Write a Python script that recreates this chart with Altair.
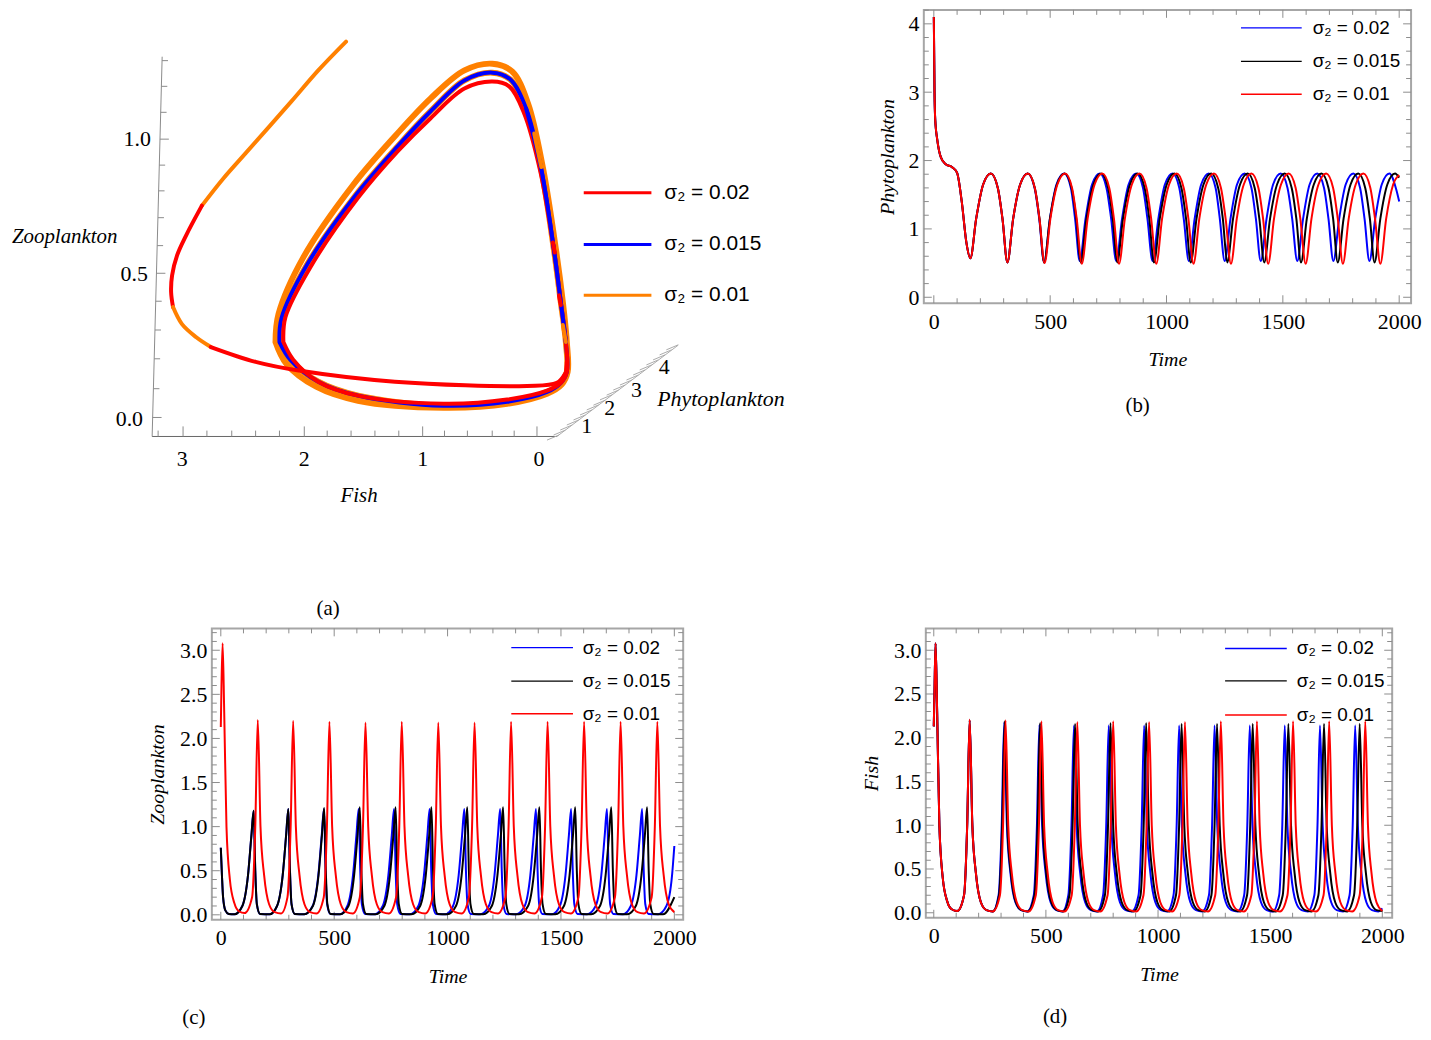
import altair as alt
import pandas as pd

BLUE, BLACK, RED, ORANGE = "#0000ff", "#000000", "#ff0000", "#ff8000"
LEGEND_TEXT = ["σ₂ = 0.02", "σ₂ = 0.015", "σ₂ = 0.01"]

# ---------- panel (b) Phytoplankton ----------
b_blue_t = [0,3,6,15,30,50,80,100,120,140,157,182,212,245,275,295,316,341,371,403,433,453,474,499,527,560,589,607,627,652,680,713,742,762,784,809,837,870,899,918,940,965,993,1026,1055,1074,1096,1121,1149,1182,1211,1229,1250,1275,1303,1336,1365,1384,1405,1430,1458,1491,1520,1540,1562,1587,1615,1648,1677,1696,1717,1742,1770,1803,1832,1851,1872,1897,1925,1958,1987,2000]
b_blue_y = [4.1,3.0,2.6,2.3,2.05,1.95,1.9,1.82,1.4,.8,.57,1.15,1.65,1.81,1.6,1.15,.51,1.15,1.65,1.81,1.6,1.15,.51,1.15,1.65,1.81,1.6,1.15,.53,1.15,1.65,1.81,1.6,1.15,.53,1.15,1.65,1.81,1.6,1.15,.53,1.15,1.65,1.81,1.6,1.15,.53,1.15,1.65,1.81,1.6,1.15,.53,1.15,1.65,1.81,1.6,1.15,.53,1.15,1.65,1.81,1.6,1.15,.53,1.15,1.65,1.81,1.6,1.15,.53,1.15,1.65,1.81,1.6,1.15,.53,1.15,1.65,1.81,1.58,1.40]
b_black_t = [0,3,6,15,30,50,80,100,120,140,157,182,212,245,275,295,316,341,371,404,434,454,474,499,529,562,592,612,631,656,686,719,749,769,788,813,843,876,906,926,946,971,1001,1034,1064,1084,1104,1129,1159,1192,1222,1242,1261,1286,1316,1349,1379,1399,1420,1445,1475,1508,1538,1558,1578,1603,1633,1666,1696,1716,1736,1761,1791,1824,1854,1874,1894,1919,1949,1982,2000]
b_black_y = [4.1,3.0,2.6,2.3,2.05,1.95,1.9,1.82,1.4,.8,.57,1.15,1.65,1.81,1.6,1.15,.51,1.15,1.65,1.81,1.6,1.15,.51,1.15,1.65,1.81,1.6,1.15,.51,1.15,1.65,1.81,1.6,1.15,.51,1.15,1.65,1.81,1.6,1.15,.51,1.15,1.65,1.81,1.6,1.15,.51,1.15,1.65,1.81,1.6,1.15,.51,1.15,1.65,1.81,1.6,1.15,.51,1.15,1.65,1.81,1.6,1.15,.51,1.15,1.65,1.81,1.6,1.15,.51,1.15,1.65,1.81,1.6,1.15,.51,1.15,1.65,1.81,1.75]
b_red_t = [0,3,6,15,30,50,80,100,120,140,157,182,212,245,275,295,316,341,371,404,434,454,476,501,531,564,594,614,636,661,691,724,754,774,796,821,851,884,914,934,956,981,1011,1044,1074,1094,1116,1141,1171,1204,1234,1254,1277,1302,1332,1365,1395,1415,1437,1462,1492,1525,1555,1575,1598,1623,1653,1686,1716,1736,1758,1783,1813,1846,1876,1896,1919,1944,1974,2000]
b_red_y = [4.1,3.0,2.6,2.3,2.05,1.95,1.9,1.82,1.4,.8,.57,1.15,1.65,1.81,1.6,1.15,.51,1.15,1.65,1.81,1.6,1.15,.5,1.15,1.65,1.81,1.6,1.15,.49,1.15,1.65,1.81,1.6,1.15,.49,1.15,1.65,1.81,1.6,1.15,.49,1.15,1.65,1.81,1.6,1.15,.49,1.15,1.65,1.81,1.6,1.15,.49,1.15,1.65,1.81,1.6,1.15,.49,1.15,1.65,1.81,1.6,1.15,.49,1.15,1.65,1.81,1.6,1.15,.49,1.15,1.65,1.81,1.6,1.15,.49,1.15,1.65,1.79]

# ---------- panel (c) Zooplankton ----------
c_blue_t = [0,5,10,20,35,60,95,120,135,145,152,159,173,215,248,273,288,298,305,312,326,368,405,430,445,455,462,469,483,525,558,583,598,608,615,622,636,678,714,739,754,764,771,778,792,834,871,896,911,921,928,935,949,991,1024,1049,1064,1074,1081,1088,1102,1144,1182,1207,1222,1232,1239,1246,1260,1302,1340,1365,1380,1390,1397,1404,1418,1460,1495,1520,1535,1545,1552,1559,1573,1615,1653,1678,1693,1703,1710,1717,1731,1773,1808,1833,1848,1858,1865,1872,1886,1928,1965,1990,2000]
c_blue_y = [.76,.45,.2,.05,.01,.005,.1,.45,.9,1.18,.5,.12,.01,.005,.1,.45,.9,1.2,.5,.12,.01,.005,.1,.45,.9,1.2,.5,.12,.01,.005,.1,.45,.9,1.2,.5,.12,.01,.005,.1,.45,.9,1.2,.5,.12,.01,.005,.1,.45,.9,1.2,.5,.12,.01,.005,.1,.45,.9,1.2,.5,.12,.01,.005,.1,.45,.9,1.2,.5,.12,.01,.005,.1,.45,.9,1.2,.5,.12,.01,.005,.1,.45,.9,1.2,.5,.12,.01,.005,.1,.45,.9,1.2,.5,.12,.01,.005,.1,.45,.9,1.2,.5,.12,.01,.005,.1,.45,.78]
c_black_t = [0,5,10,20,35,60,95,120,135,145,152,159,173,215,248,273,288,298,305,312,326,368,406,431,446,456,463,470,484,526,563,588,603,613,620,627,641,683,721,746,761,771,778,785,799,841,879,904,919,929,936,943,957,999,1037,1062,1077,1087,1094,1101,1115,1157,1195,1220,1235,1245,1252,1259,1273,1315,1355,1380,1395,1405,1412,1419,1433,1475,1513,1538,1553,1563,1570,1577,1591,1633,1672,1697,1712,1722,1729,1736,1750,1792,1830,1855,1870,1880,1887,1894,1908,1950,2000]
c_black_y = [.76,.45,.2,.05,.01,.005,.1,.45,.9,1.18,.5,.12,.01,.005,.1,.45,.9,1.2,.5,.12,.01,.005,.1,.45,.9,1.21,.5,.12,.01,.005,.1,.45,.9,1.22,.5,.12,.01,.005,.1,.45,.9,1.22,.5,.12,.01,.005,.1,.45,.9,1.22,.5,.12,.01,.005,.1,.45,.9,1.22,.5,.12,.01,.005,.1,.45,.9,1.22,.5,.12,.01,.005,.1,.45,.9,1.22,.5,.12,.01,.005,.1,.45,.9,1.22,.5,.12,.01,.005,.1,.45,.9,1.22,.5,.12,.01,.005,.1,.45,.9,1.22,.5,.12,.01,.005,.2]
c_red_t = [0,3,8,15,25,40,60,80,105,138,152,163,175,191,213,238,266,294,308,319,331,347,369,394,422,454,468,479,491,507,529,554,582,613,627,638,650,666,688,713,741,773,787,798,810,826,848,873,901,934,948,959,971,987,1009,1034,1062,1094,1108,1119,1131,1147,1169,1194,1222,1255,1269,1280,1292,1308,1330,1355,1383,1416,1430,1441,1453,1469,1491,1516,1544,1577,1591,1602,1614,1630,1652,1677,1705,1738,1752,1763,1775,1791,1813,1838,1866,1900,1914,1925,1937,1953,1975,2000]
c_red_y = [2.13,2.6,3.08,2.3,1.0,.4,.13,.04,.02,.2,1,2.21,1,.45,.12,.03,.015,.2,1,2.2,1,.45,.12,.03,.015,.2,1,2.19,1,.45,.12,.03,.015,.2,1,2.18,1,.45,.12,.03,.015,.2,1,2.19,1,.45,.12,.03,.015,.2,1,2.18,1,.45,.12,.03,.015,.2,1,2.18,1,.45,.12,.03,.015,.2,1,2.19,1,.45,.12,.03,.015,.2,1,2.19,1,.45,.12,.03,.015,.2,1,2.19,1,.45,.12,.03,.015,.2,1,2.19,1,.45,.12,.03,.015,.2,1,2.19,1,.45,.12,.03]

# ---------- panel (d) Fish ----------
d_blue_t = [0,3,8,15,25,40,60,80,105,135,149,160,172,188,210,235,263,289,303,314,326,342,364,389,417,446,460,471,483,499,521,546,574,600,614,625,637,653,675,700,728,755,769,780,792,808,830,855,883,913,927,938,950,966,988,1013,1041,1069,1083,1094,1106,1122,1144,1169,1197,1227,1241,1252,1264,1280,1302,1327,1355,1384,1398,1409,1421,1437,1459,1484,1512,1540,1554,1565,1577,1593,1615,1640,1668,1697,1711,1722,1734,1750,1772,1797,1825,1854,1868,1879,1891,1907,1929,1954,1982,2000]
d_blue_y = [2.13,2.5,3.08,2.3,1.0,.4,.13,.04,.02,.2,1,2.2,1,.45,.12,.03,.015,.2,1,2.18,1,.45,.12,.03,.015,.2,1,2.15,1,.45,.12,.03,.015,.2,1,2.14,1,.45,.12,.03,.015,.2,1,2.14,1,.45,.12,.03,.015,.2,1,2.14,1,.45,.12,.03,.015,.2,1,2.14,1,.45,.12,.03,.015,.2,1,2.14,1,.45,.12,.03,.015,.2,1,2.14,1,.45,.12,.03,.015,.2,1,2.14,1,.45,.12,.03,.015,.2,1,2.14,1,.45,.12,.03,.015,.2,1,2.14,1,.45,.12,.03,.015,.05]
d_black_t = [0,3,8,15,25,40,60,80,105,135,149,160,172,188,210,235,263,291,305,316,328,344,366,391,419,449,463,474,486,502,524,549,577,605,619,630,642,658,680,705,733,763,777,788,800,816,838,863,891,922,936,947,959,975,997,1022,1050,1080,1094,1105,1117,1133,1155,1180,1208,1238,1252,1263,1275,1291,1313,1338,1366,1397,1411,1422,1434,1450,1472,1497,1525,1556,1570,1581,1593,1609,1631,1656,1684,1715,1729,1740,1752,1768,1790,1815,1843,1874,1888,1899,1911,1927,1949,1974,2000]
d_black_y = [2.13,2.5,3.08,2.3,1.0,.4,.13,.04,.02,.2,1,2.2,1,.45,.12,.03,.015,.2,1,2.19,1,.45,.12,.03,.015,.2,1,2.17,1,.45,.12,.03,.015,.2,1,2.16,1,.45,.12,.03,.015,.2,1,2.17,1,.45,.12,.03,.015,.2,1,2.17,1,.45,.12,.03,.015,.2,1,2.16,1,.45,.12,.03,.015,.2,1,2.16,1,.45,.12,.03,.015,.2,1,2.16,1,.45,.12,.03,.015,.2,1,2.16,1,.45,.12,.03,.015,.2,1,2.16,1,.45,.12,.03,.015,.2,1,2.16,1,.45,.12,.03,.02]
d_red_t = [0,3,8,15,25,40,60,80,105,135,149,160,172,188,210,235,263,295,309,320,332,348,370,395,423,455,469,480,492,508,530,555,583,615,629,640,652,668,690,715,743,775,789,800,812,828,850,875,903,935,949,960,972,988,1010,1035,1063,1095,1109,1120,1132,1148,1170,1195,1223,1255,1269,1280,1292,1308,1330,1355,1383,1416,1430,1441,1453,1469,1491,1516,1544,1577,1591,1602,1614,1630,1652,1677,1705,1738,1752,1763,1775,1791,1813,1838,1866,1899,1913,1924,1936,1952,1974,2000]
d_red_y = [2.13,2.5,3.08,2.3,1.0,.4,.13,.04,.02,.2,1,2.21,1,.45,.12,.03,.015,.2,1,2.2,1,.45,.12,.03,.015,.2,1,2.19,1,.45,.12,.03,.015,.2,1,2.18,1,.45,.12,.03,.015,.2,1,2.19,1,.45,.12,.03,.015,.2,1,2.18,1,.45,.12,.03,.015,.2,1,2.18,1,.45,.12,.03,.015,.2,1,2.19,1,.45,.12,.03,.015,.2,1,2.19,1,.45,.12,.03,.015,.2,1,2.19,1,.45,.12,.03,.015,.2,1,2.19,1,.45,.12,.03,.015,.2,1,2.19,1,.45,.12,.02]

# ---------- panel (a): projected Fish / Zooplankton coordinates ----------
tr_orange_f = [1.617,1.85,2.075,2.458,2.642,2.825]
tr_orange_z = [1.349,1.246,1.135,.95,.861,.762]
tr_red1_f = [2.825,2.958,3.033,3.075,3.083,3.067]
tr_red1_z = [.762,.655,.584,.512,.452,.399]
tr_mix_f = [3.067,2.992,2.875,2.75]
tr_mix_z = [.399,.338,.292,.256]
tr_red2_f = [2.75,2.375,2.0,1.208,.1,-.15,-.217]
tr_red2_z = [.256,.203,.171,.132,.117,.128,.16]
loop_red_f = [2.142,2.058,1.85,1.517,.8,.267,-.067,-.183,-.233,-.225,-.183,-.125,-.008,.125,.25,.392,.625,.908,1.183,1.517,1.917,2.125,2.142]
loop_red_z = [.274,.21,.132,.082,.053,.068,.1,.128,.167,.274,.416,.605,.89,1.093,1.189,1.206,1.181,1.075,.957,.79,.541,.363,.274]
loop_blue_f = [2.175,2.083,1.85,1.517,.8,.267,-.067,-.183,-.233,-.225,-.183,-.125,-.017,.108,.242,.392,.625,.908,1.183,1.533,1.942,2.158,2.175]
loop_blue_z = [.274,.21,.132,.082,.046,.06,.095,.128,.167,.274,.416,.605,.897,1.11,1.214,1.238,1.21,1.1,.975,.801,.552,.359,.274]
loop_orange_f = [2.208,2.117,1.867,1.517,.8,.267,-.067,-.19,-.24,-.233,-.2,-.142,-.033,.092,.225,.392,.625,.908,1.2,1.558,1.975,2.183,2.208]
loop_orange_z = [.274,.196,.114,.064,.039,.053,.089,.122,.167,.274,.416,.605,.897,1.128,1.242,1.27,1.246,1.146,1.014,.836,.577,.374,.274]
right_blue_f = [.108,-.017,-.125,-.183,-.225]
right_blue_z = [1.11,.897,.605,.416,.274]
bits_red = [([-.117,-.133],[.63,.594]),([-.167,-.183],[.441,.406]),([-.233,-.225],[.203,.16])]
bits_orange = [([-.2,-.225],[.335,.274]),([.04,-.02],[1.02,.9])]

axis_y_f = [3.242,3.158]
axis_y_z = [-.064,1.295]
axis_x_f = [3.242,-.15]
axis_x_z = [-.064,-.064]
axis_p_f = [-.15,-1.167]
axis_p_z = [-.064,.263]
ytick_z = [1.281,1.189,1.096,1.0,.907,.815,.719,.619,.52,.42,.317,.214,.107,.004]
ytick_f = [3.159,3.165,3.171,3.177,3.183,3.188,3.193,3.2,3.206,3.212,3.218,3.225,3.231,3.238]
ytick_f2 = [3.109,3.115,3.121,3.102,3.133,3.138,3.143,3.15,3.131,3.162,3.168,3.175,3.181,3.163]
xtick_f = [3.192,2.983,2.783,2.575,2.375,2.175,1.967,1.775,1.575,1.375,1.175,.975,.792,.6,.392,.208,.017]
xtick_z2 = [-.043,-.028,-.043,-.043,-.043,-.043,-.028,-.043,-.043,-.043,-.043,-.028,-.043,-.043,-.043,-.043,-.028]
ptick_f = [-.167,-.222,-.278,-.333,-.389,-.444,-.5,-.556,-.611,-.667,-.722,-.778,-.833,-.889,-.944,-1.0,-1.056,-1.111,-1.167]
ptick_z = [-.059,-.041,-.023,-.005,.013,.031,.049,.066,.085,.102,.12,.138,.156,.174,.192,.21,.228,.246,.264]
ptick_f2 = [-.067,-.122,-.178,-.233,-.289,-.344,-.4,-.456,-.511,-.567,-.622,-.678,-.733,-.789,-.844,-.9,-.956,-1.011,-1.067]
ptick_z2 = [-.077,-.059,-.041,-.023,-.005,.013,.031,.048,.067,.084,.102,.12,.138,.156,.174,.192,.21,.228,.246]

a_num_text = ["1.0","0.5","0.0","3","2","1","0","1","2","3","4"]
a_num_f = [3.367,3.392,3.433,2.99,1.967,.975,0,-.4,-.592,-.817,-1.05]
a_num_z = [1.0,.516,0,-.146,-.146,-.146,-.146,-.028,.036,.103,.185]
a_title_text = ["Fish","Zooplankton"]
a_title_f = [1.508,3.975]
a_title_z = [-.278,.648]
a_leg_z = [.808,.623,.441]
a_leg_color = [RED,BLUE,ORANGE]

SERIF = "Liberation Serif"
SANS = "Liberation Sans"
XA = alt.Scale(domain=[4.45,-2.15], nice=False, zero=False)
YA = alt.Scale(domain=[-.733,1.4626], nice=False, zero=False)

def a_line(f, z, color, width, dash=None):
    df = pd.DataFrame({"f":f,"z":z,"i":range(len(f))})
    kw = dict(color=color, strokeWidth=width, interpolate="catmull-rom", strokeCap="round", clip=False)
    if dash: kw["strokeDash"] = dash
    return alt.Chart(df).mark_line(**kw).encode(
        x=alt.X("f:Q", scale=XA, axis=None), y=alt.Y("z:Q", scale=YA, axis=None), order="i:Q")

def a_rules(f, z, f2, z2, color="#8a8a8a", width=1):
    df = pd.DataFrame({"f":f,"z":z,"f2":f2,"z2":z2})
    return alt.Chart(df).mark_rule(color=color, strokeWidth=width).encode(
        x=alt.X("f:Q", scale=XA, axis=None), y=alt.Y("z:Q", scale=YA, axis=None), x2="f2:Q", y2="z2:Q")

def a_text(text, f, z, font, size, italic=False, align="center"):
    df = pd.DataFrame({"t":text,"f":f,"z":z})
    return alt.Chart(df).mark_text(font=font, fontSize=size, fontStyle="italic" if italic else "normal",
                                   align=align, baseline="middle", color="black").encode(
        x=alt.X("f:Q", scale=XA, axis=None), y=alt.Y("z:Q", scale=YA, axis=None), text="t:N")

a_layers = [
    a_rules([axis_y_f[0]],[axis_y_z[0]],[axis_y_f[1]],[axis_y_z[1]]),
    a_rules([axis_x_f[0]],[axis_x_z[0]],[axis_x_f[1]],[axis_x_z[1]],"#666666"),
    a_rules([axis_p_f[0]],[axis_p_z[0]],[axis_p_f[1]],[axis_p_z[1]],"#aaaaaa"),
    a_rules(ytick_f,ytick_z,ytick_f2,ytick_z),
    a_rules(xtick_f,[-.064]*len(xtick_f),xtick_f,xtick_z2),
    a_rules(ptick_f,ptick_z,ptick_f2,ptick_z2,"#aaaaaa"),
    a_line(loop_orange_f,loop_orange_z,ORANGE,6),
    a_line(loop_blue_f,loop_blue_z,ORANGE,6),
    a_line(loop_blue_f,loop_blue_z,BLUE,4),
    a_line(loop_red_f,loop_red_z,RED,4),
    a_line(right_blue_f,right_blue_z,BLUE,4),
]
for bf,bz in bits_orange:
    a_layers.append(a_line(bf,bz,ORANGE,4))
for bf,bz in bits_red:
    a_layers.append(a_line(bf,bz,RED,4))
a_layers += [
    a_line(tr_orange_f,tr_orange_z,ORANGE,4),
    a_line(tr_red1_f,tr_red1_z,RED,4),
    a_line(tr_mix_f,tr_mix_z,ORANGE,4),
    a_line(tr_red2_f,tr_red2_z,RED,4),
    a_text(a_num_text,a_num_f,a_num_z,SERIF,22),
    a_text(a_title_text,a_title_f,a_title_z,SERIF,21,italic=True),
    a_text(["Phytoplankton"],[-1.525],[.071],SERIF,22,italic=True),
    a_text(["(a)"],[1.767],[-.68],SERIF,21),
]
for zv,col in zip(a_leg_z,a_leg_color):
    a_layers.append(a_rules([-.375],[zv],[-.942],[zv],col,3))
a_layers.append(a_text(LEGEND_TEXT,[-1.05]*3,a_leg_z,SANS,21,align="left"))
panel_a = alt.layer(*a_layers).properties(width=792, height=617, view=alt.ViewConfig(stroke=None))

FRAME = "#a6a6a6"
TICK = "#8c8c8c"

def ts_panel(w, h, xdom, ydom, series, xmaj, xmin, ymaj, ymin, yfmt, ytitle, tpad, leg_x, leg_x2, leg_tx, leg_y, cap, cap_x, cap_y, lpad=8, xtpad=18):
    XS = alt.Scale(domain=xdom, nice=False, zero=False)
    YS = alt.Scale(domain=ydom, nice=False, zero=False)
    AX = alt.Axis(values=xmaj, format="d", title="Time", grid=False, ticks=False, domain=False,
            labelFont=SERIF, labelFontSize=22, labelColor="black", labelPadding=lpad, labelOverlap=False, labelFlush=False,
            titleFont=SERIF, titleFontSize=20, titleFontStyle="italic", titleFontWeight="normal", titleColor="black", titlePadding=xtpad)
    AY = alt.Axis(values=ymaj, format=yfmt, title=ytitle, grid=False, ticks=False, domain=False,
            labelFont=SERIF, labelFontSize=22, labelColor="black", labelPadding=5, labelOverlap=False, labelFlush=False,
            titleFont=SERIF, titleFontSize=20, titleFontStyle="italic", titleFontWeight="normal", titleColor="black", titlePadding=tpad)
    XE = lambda name: alt.X(name, scale=XS, axis=AX)
    YE = lambda name: alt.Y(name, scale=YS, axis=AY)
    layers = []
    for vals, size in ((xmaj, 8), (xmin, 5)):
        df = pd.DataFrame({"v":vals})
        layers.append(alt.Chart(df).mark_rule(color=TICK, strokeWidth=1).encode(x=XE("v:Q"), y=alt.value(h), y2=alt.value(h-size)))
        layers.append(alt.Chart(df).mark_rule(color=TICK, strokeWidth=1).encode(x=XE("v:Q"), y=alt.value(0), y2=alt.value(size)))
    for vals, size in ((ymaj, 8), (ymin, 5)):
        df = pd.DataFrame({"v":vals})
        layers.append(alt.Chart(df).mark_rule(color=TICK, strokeWidth=1).encode(y=YE("v:Q"), x=alt.value(0), x2=alt.value(size)))
        layers.append(alt.Chart(df).mark_rule(color=TICK, strokeWidth=1).encode(y=YE("v:Q"), x=alt.value(w), x2=alt.value(w-size)))
    for t, y, col in series:
        df = pd.DataFrame({"t":t,"y":y})
        layers.append(alt.Chart(df).mark_line(color=col, strokeWidth=2, interpolate="monotone").encode(x=XE("t:Q"), y=YE("y:Q")))
    for yv, col in zip(leg_y, (BLUE, BLACK, RED)):
        df = pd.DataFrame({"a":[leg_x],"b":[leg_x2],"y":[yv]})
        layers.append(alt.Chart(df).mark_rule(color=col, strokeWidth=1.3).encode(x=XE("a:Q"), x2="b:Q", y=YE("y:Q")))
    df = pd.DataFrame({"x":[leg_tx]*3,"y":leg_y,"s":LEGEND_TEXT})
    layers.append(alt.Chart(df).mark_text(font=SANS, fontSize=19, align="left", baseline="middle", color="black").encode(
        x=XE("x:Q"), y=YE("y:Q"), text="s:N"))
    layers.append(alt.Chart(pd.DataFrame({"s":[cap]})).mark_text(font=SERIF, fontSize=21, align="center", baseline="middle", color="black").encode(
        x=alt.value(cap_x), y=alt.value(cap_y), text="s:N"))
    return alt.layer(*layers).properties(width=w, height=h, view=alt.ViewConfig(stroke=FRAME, strokeWidth=2))

XMAJ = [0,500,1000,1500,2000]
XMIN = [100,200,300,400,600,700,800,900,1100,1200,1300,1400,1600,1700,1800,1900]
YMAJ_H = [0,.5,1,1.5,2,2.5,3]
YMIN_H = [.1,.2,.3,.4,.6,.7,.8,.9,1.1,1.2,1.3,1.4,1.6,1.7,1.8,1.9,2.1,2.2,2.3,2.4,2.6,2.7,2.8,2.9,3.1,3.2]

panel_b = ts_panel(490, 295, [-43,2051], [-.087,4.204],
    [(b_blue_t,b_blue_y,BLUE),(b_black_t,b_black_y,BLACK),(b_red_t,b_red_y,RED)],
    XMAJ, XMIN, [0,1,2,3,4], [.2,.4,.6,.8,1.2,1.4,1.6,1.8,2.2,2.4,2.6,2.8,3.2,3.4,3.6,3.8,4.2], "d", "Phytoplankton", 10,
    1320, 1581, 1628, [3.94,3.45,2.97], "(b)", 215, 398)
panel_c = ts_panel(474, 293, [-39.5,2039], [-.056,3.248],
    [(c_blue_t,c_blue_y,BLUE),(c_black_t,c_black_y,BLACK),(c_red_t,c_red_y,RED)],
    XMAJ, XMIN, YMAJ_H, YMIN_H, ".1f", "Zooplankton", 12,
    1281, 1553, 1596, [3.03,2.65,2.28], "(c)", -18, 392)
panel_d = ts_panel(469, 291, [-35.5,2044], [-.057,3.25],
    [(d_blue_t,d_blue_y,BLUE),(d_black_t,d_black_y,BLACK),(d_red_t,d_red_y,RED)],
    XMAJ, XMIN, YMAJ_H, YMIN_H, ".1f", "Fish", 12,
    1299, 1574, 1619, [3.02,2.65,2.26], "(d)", 130, 391)

spacer = alt.Chart(pd.DataFrame({"a":[0]})).mark_point(opacity=0).encode(x=alt.value(0), y=alt.value(0)).properties(
    width=139, height=1, view=alt.ViewConfig(stroke=None))

top = alt.hconcat(panel_a, panel_b, spacing=82)
bottom = alt.hconcat(spacer, alt.hconcat(panel_c, panel_d, spacing=163), spacing=0)
chart = alt.vconcat(top, bottom, spacing=2).properties(padding={"left":-3,"top":-3,"right":0,"bottom":0}, background="white")
chart.save("out.html", embed_options={"renderer": "svg", "actions": False})
